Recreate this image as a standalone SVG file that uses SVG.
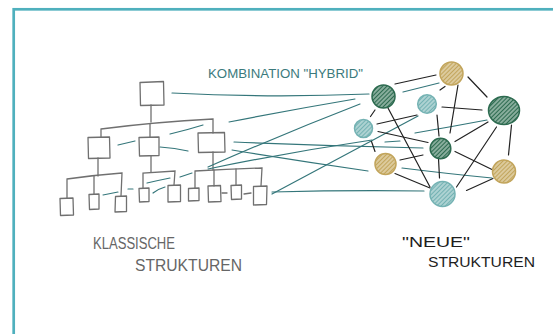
<svg xmlns="http://www.w3.org/2000/svg" width="553" height="334" viewBox="0 0 553 334">
<style>
.box{fill:none;stroke:#707070;stroke-width:1.3;stroke-linejoin:round;stroke-linecap:round}
.tl{fill:none;stroke:#707070;stroke-width:1.3;stroke-linecap:round}
.tc{fill:none;stroke:#34767a;stroke-width:1.2;stroke-linecap:round}
.bk{fill:none;stroke:#222;stroke-width:1.2;stroke-linecap:round}
.dg{fill:url(#hDG);stroke:#2d6b50;stroke-width:1.5}
.lt{fill:url(#hLT);stroke:#74b2b3;stroke-width:1.5}
.gd{fill:url(#hGD);stroke:#c2a55c;stroke-width:1.5}
.t1{font-family:'Liberation Sans',Arial,sans-serif;fill:#3b7a7c;font-size:13px}
.t2{font-family:'Liberation Sans',Arial,sans-serif;fill:#666;font-size:16px}
.t3{font-family:'Liberation Sans',Arial,sans-serif;fill:#1e1e1e;font-size:15px}
</style>
<defs>
<pattern id="hDG" width="3" height="3" patternUnits="userSpaceOnUse" patternTransform="rotate(45)"><rect width="3" height="3" fill="#e3eee8"/><line x1="1.5" y1="0" x2="1.5" y2="3" stroke="#2d6b50" stroke-width="2"/></pattern>
<pattern id="hLT" width="3" height="3" patternUnits="userSpaceOnUse" patternTransform="rotate(45)"><rect width="3" height="3" fill="#e6f2f2"/><line x1="1.5" y1="0" x2="1.5" y2="3" stroke="#74b2b3" stroke-width="2"/></pattern>
<pattern id="hGD" width="3" height="3" patternUnits="userSpaceOnUse" patternTransform="rotate(45)"><rect width="3" height="3" fill="#f6efdc"/><line x1="1.5" y1="0" x2="1.5" y2="3" stroke="#c2a55c" stroke-width="2"/></pattern>
</defs>
<rect x="0" y="0" width="553" height="334" fill="#fff"/>
<rect x="13.7" y="9.3" width="620" height="420" fill="none" stroke="#4fb0bd" stroke-width="2.7"/>

<g id="labels">
<text class="t1" x="208" y="78" textLength="155" lengthAdjust="spacingAndGlyphs">KOMBINATION "HYBRID"</text>
<text class="t2" x="93" y="248.5" textLength="82" lengthAdjust="spacingAndGlyphs">KLASSISCHE</text>
<text class="t2" x="135" y="271" textLength="107" lengthAdjust="spacingAndGlyphs">STRUKTUREN</text>
<text class="t3" x="402" y="246.5" textLength="68" lengthAdjust="spacingAndGlyphs">"NEUE"</text>
<text class="t3" x="428" y="266.5" textLength="107" lengthAdjust="spacingAndGlyphs">STRUKTUREN</text>
</g>

<g id="connectors">
<!-- tree lines -->
<path class="tl" d="M151,105 L151,122"/>
<path class="tl" d="M101,137 L101,129 Q155,122 213,119 L213,133"/>
<path class="tl" d="M150,124 L150,137"/>
<path class="tl" d="M98,158 L98,176"/>
<path class="tl" d="M67,198 L67,179 Q95,175 122,173 L121,196"/>
<path class="tl" d="M94,176 L94,194"/>
<path class="tl" d="M151,156 L151,172"/>
<path class="tl" d="M143,188 L143,173 L175,171 L174,185"/>
<path class="tl" d="M213,152 L213,170"/>
<path class="tl" d="M195,188 L195,171 Q230,169 262,168 L261,186"/>
<path class="tl" d="M214,170 L214,186"/>
<path class="tl" d="M236,169 L236,185"/>
<path class="tl" d="M222,193 L227,193"/>
<path class="tl" d="M244,194 L251,193"/>
<!-- teal dashes inside tree -->
<path class="tc" d="M118,145 L135,141"/>
<path class="tc" d="M170,134 Q187,130 203,125"/>
<path class="tc" d="M160,147 Q175,148 188,151"/>
<path class="tc" d="M103,195 L118,192"/>
<path class="tc" d="M128,189 L133,189"/>
<path class="tc" d="M147,183 Q160,180 170,178"/>
<path class="tc" d="M153,193 Q158,189 165,187"/>
<path class="tc" d="M180,177 L192,173"/>
<!-- long teal connectors -->
<path class="tc" d="M172,93 Q270,98 369,94"/>
<path class="tc" d="M229,122 Q290,110 355,99"/>
<path class="tc" d="M208,167 Q285,133 360,104"/>
<path class="tc" d="M234,142 Q330,146 423,148"/>
<path class="tc" d="M232,150 Q300,161 368,171"/>
<path class="tc" d="M208,169 Q290,152 372,140"/>
<path class="tc" d="M272,192 Q350,190 424,191"/>
<path class="tc" d="M272,194 Q340,158 418,116"/>
<!-- teal in network -->
<path class="tc" d="M403,92 L439,83"/>
<path class="tc" d="M415,133 Q450,127 487,120"/>
<path class="tc" d="M385,142 L400,141"/>
<path class="tc" d="M402,168 Q450,174 492,178"/>
<!-- black network lines -->
<path class="bk" d="M395,84 L436,75"/>
<path class="bk" d="M468,77 L487,97"/>
<path class="bk" d="M440,90 L445,86.5"/>
<path class="bk" d="M458,85 L450,133"/>
<path class="bk" d="M442,107 L482,110"/>
<path class="bk" d="M437,115 L439,136"/>
<path class="bk" d="M375,110 L370.5,116.5"/>
<path class="bk" d="M388,108 L430,187"/>
<path class="bk" d="M377,124 L417,115"/>
<path class="bk" d="M378,131.5 L428,142.5"/>
<path class="bk" d="M371.5,141.5 L375,151.5"/>
<path class="bk" d="M400,160 L423,155"/>
<path class="bk" d="M438.5,158.5 L439.5,178"/>
<path class="bk" d="M395,173.5 L430,188"/>
<path class="bk" d="M455,141.5 L488,122"/>
<path class="bk" d="M511.5,125 L508.5,155"/>
<path class="bk" d="M455,151.5 L493,170"/>
<path class="bk" d="M496.5,127 L456.5,187"/>
<path class="bk" d="M466.5,190.5 L493,178.5"/>
</g>

<g id="tree">
<g id="t-root"><path class="box" d="M140,82.5 L163.5,81.5 L164,105 L140.5,105.5 Z"/></g>
<g id="t-l2a"><path class="box" d="M88,137.5 L109.5,137 L110,158 L88.5,158.5 Z"/></g>
<g id="t-l2b"><path class="box" d="M139,137.5 L159,137 L159,155.5 L139.5,156 Z"/></g>
<g id="t-l2c"><path class="box" d="M198,133 L224.5,132.5 L225,152 L198.5,152.5 Z"/></g>
<g id="t-a1"><path class="box" d="M60,198.5 L73,198 L73.5,215 L60.5,215.5 Z"/></g>
<g id="t-a2"><path class="box" d="M89,194.5 L99,194 L99,209 L89.5,209.5 Z"/></g>
<g id="t-a3"><path class="box" d="M115.5,196.5 L126.5,196 L126.5,211.5 L115,212 Z"/></g>
<g id="t-b1"><path class="box" d="M139,188.5 L149,188 L149,201.5 L139.5,202 Z"/></g>
<g id="t-b2"><path class="box" d="M168,185.5 L180.5,185 L180.5,201.5 L168,202 Z"/></g>
<g id="t-c1"><path class="box" d="M188.5,188.5 L199,188 L199,200.5 L188.5,201 Z"/></g>
<g id="t-c2"><path class="box" d="M208,186 L220.5,185.5 L221,201.5 L208.5,202 Z"/></g>
<g id="t-c3"><path class="box" d="M231,185.5 L241.5,185 L241.5,199 L231.5,199.5 Z"/></g>
<g id="t-c4"><path class="box" d="M253.5,186.5 L267,186 L266.5,204.5 L253.5,205 Z"/></g>
</g>

<g id="network">
<g id="n-gold-top"><circle class="gd" cx="451.5" cy="73.5" r="11.5"/></g>
<g id="n-dg-tl"><circle class="dg" cx="383.5" cy="96.5" r="11.5"/></g>
<g id="n-lt-tr"><circle class="lt" cx="427" cy="104" r="9.3"/></g>
<g id="n-dg-big"><ellipse class="dg" cx="504" cy="110.5" rx="15.5" ry="14"/></g>
<g id="n-lt-left"><circle class="lt" cx="363.5" cy="128.5" r="9"/></g>
<g id="n-dg-mid"><circle class="dg" cx="440.5" cy="148.5" r="10.3"/></g>
<g id="n-gold-left"><circle class="gd" cx="385.5" cy="164" r="10.5"/></g>
<g id="n-gold-right"><circle class="gd" cx="504" cy="171.5" r="11.5"/></g>
<g id="n-lt-bottom"><circle class="lt" cx="442.5" cy="194" r="12.5"/></g>
</g>
</svg>
